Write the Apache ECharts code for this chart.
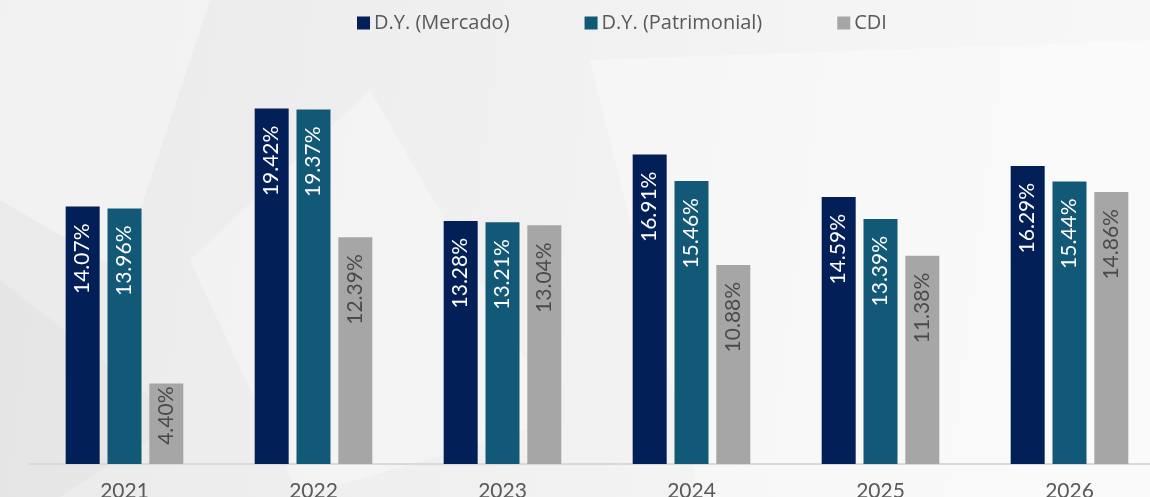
<!DOCTYPE html>
<html>
<head>
<meta charset="utf-8">
<script src="https://cdn.jsdelivr.net/npm/echarts@6/dist/echarts.min.js"></script>
<style>
  html, body { margin: 0; padding: 0; overflow: hidden; }
  /* gráfico um pouco mais largo que a janela: o último grupo fica cortado à direita */
  #chart { width: 1164px; height: 497px; }
</style>
</head>
<body>
<div id="chart"></div>
<script>
// categorias e valores
var years = ['2021', '2022', '2023', '2024', '2025', '2026'];
var dyMercado = [14.07, 19.42, 13.28, 16.91, 14.59, 16.29];
var dyPatrimonial = [13.96, 19.37, 13.21, 15.46, 13.39, 15.44];
var cdi = [4.40, 12.39, 13.04, 10.88, 11.38, 14.86];

var chart = echarts.init(document.getElementById('chart'));

function barLabel(color) {
  return {
    show: true,
    position: 'insideTop',
    rotate: 90,
    align: 'right',
    verticalAlign: 'middle',
    distance: 17,
    color: color,
    fontSize: 21,
    fontFamily: 'Lato',
    formatter: function (p) { return p.value.toFixed(2) + '%'; }
  };
}

// barra curta do CDI 2021: rótulo mais perto do topo
var cdiData = cdi.map(function (v, i) {
  return i === 0 ? { value: v, label: { distance: 3 } } : v;
});

var option = {
  backgroundColor: {
    type: 'linear', x: 0, y: 0, x2: 1, y2: 0.3,
    colorStops: [
      { offset: 0, color: '#eaeaea' },
      { offset: 0.5, color: '#f1f1f1' },
      { offset: 1, color: '#f8f8f8' }
    ]
  },
  // fundo decorativo (polígonos claros)
  graphic: [
    { type: 'polygon', silent: true, z: -10,
      shape: { points: [[0, 0], [210, 0], [120, 270], [0, 200]] },
      style: { fill: 'rgba(255,255,255,0.35)' } },
    { type: 'polygon', silent: true, z: -10,
      shape: { points: [[190, 260], [370, 90], [560, 420], [300, 497]] },
      style: { fill: 'rgba(255,255,255,0.3)' } },
    { type: 'polygon', silent: true, z: -10,
      shape: { points: [[590, 60], [1164, 40], [1164, 497], [700, 497]] },
      style: { fill: 'rgba(255,255,255,0.35)' } },
    { type: 'polygon', silent: true, z: -10,
      shape: { points: [[0, 280], [180, 420], [60, 497], [0, 497]] },
      style: { fill: 'rgba(0,0,0,0.02)' } }
  ],
  legend: {
    top: 8,
    left: 352,
    itemGap: 75,
    itemWidth: 13,
    itemHeight: 13,
    icon: 'rect',
    textStyle: { color: '#595959', fontSize: 20, fontFamily: 'Open Sans', padding: [0, 0, 0, -1] },
    data: ['D.Y. (Mercado)', 'D.Y. (Patrimonial)', 'CDI']
  },
  grid: {
    left: 30,
    right: 0,
    top: 98,
    bottom: 33,
    outerBoundsMode: 'none'
  },
  xAxis: {
    type: 'category',
    data: years,
    axisTick: { show: false },
    axisLine: { lineStyle: { color: '#d9d9d9', width: 2 } },
    axisLabel: { color: '#595959', fontSize: 21, fontFamily: 'Lato', margin: 17 }
  },
  yAxis: {
    type: 'value',
    min: 0,
    max: 20,
    show: false,
    splitLine: { show: false }
  },
  series: [
    {
      name: 'D.Y. (Mercado)',
      type: 'bar',
      data: dyMercado,
      barWidth: 34,
      barGap: '23%',
      itemStyle: { color: '#031f57' },
      label: barLabel('#ffffff')
    },
    {
      name: 'D.Y. (Patrimonial)',
      type: 'bar',
      data: dyPatrimonial,
      barWidth: 34,
      barGap: '23%',
      itemStyle: { color: '#125877' },
      label: barLabel('#ffffff')
    },
    {
      name: 'CDI',
      type: 'bar',
      data: cdiData,
      barWidth: 34,
      barGap: '23%',
      itemStyle: { color: '#a6a6a6' },
      label: barLabel('#4a4a4a')
    }
  ]
};

chart.setOption(option);
</script>
</body>
</html>
